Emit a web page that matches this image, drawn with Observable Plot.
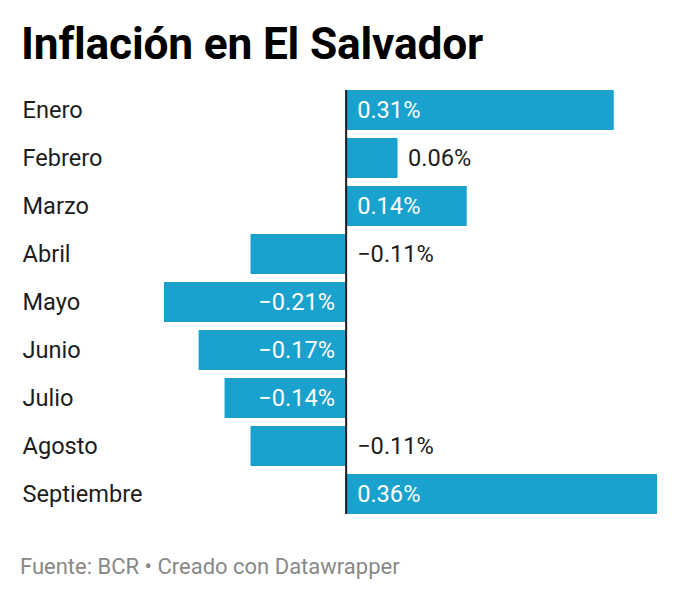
<!DOCTYPE html>
<html>
<head>
<meta charset="utf-8">
<script src="https://cdn.jsdelivr.net/npm/d3@7"></script>
<script src="https://cdn.jsdelivr.net/npm/@observablehq/plot@0.6"></script>
<style>
  body { margin: 0; background: #fff; font-family: Roboto, sans-serif; }
  #wrap { width: 680px; }
  #title { height: 82px; box-sizing: border-box; padding: 19px 0 0 21px; font: 700 44.3px/50px Roboto, sans-serif; color: #000; letter-spacing: -0.2px; }
  #foot { padding: 32px 0 0 20px; font: 400 22px/26px Roboto, sans-serif; color: #888; }
  svg { display: block; }
</style>
</head>
<body>
<div id="wrap">
  <div id="title">Inflación en El Salvador</div>
  <div id="chart"></div>
  <div id="foot">Fuente: BCR • Creado con Datawrapper</div>
</div>
<script>
const months = ["Enero","Febrero","Marzo","Abril","Mayo","Junio","Julio","Agosto","Septiembre"];
const values = [0.31, 0.06, 0.14, -0.11, -0.21, -0.17, -0.14, -0.11, 0.36];

const data = months.map((m, i) => ({ month: m, value: values[i] }));
const fmt = v => (v < 0 ? "\u2212" : "") + Math.abs(v).toFixed(2) + "%";
const isInside = d => Math.abs(d.value) >= 0.14;

const posIn = data.filter(d => d.value >= 0 && isInside(d));
const posOut = data.filter(d => d.value >= 0 && !isInside(d));
const negIn = data.filter(d => d.value < 0 && isInside(d));
const negOut = data.filter(d => d.value < 0 && !isInside(d));

const blue = "#19a2cd";
const ink = "#1d1d1d";
const fs = 23.6;

const chart = Plot.plot({
  width: 680,
  height: 440,
  marginTop: 0,
  marginBottom: 0,
  marginLeft: 164,
  marginRight: 23,
  style: { fontFamily: "Roboto, sans-serif", fontSize: "24px", background: "#fff" },
  x: { domain: [-0.21, 0.36], axis: null },
  y: { domain: months, axis: null, paddingInner: 1/6, paddingOuter: 1/6, round: false },
  marks: [
    Plot.barX(data, { x: "value", y: "month", fill: blue }),
    Plot.ruleX([0], { stroke: ink, strokeWidth: 2, insetTop: 8, insetBottom: 8 }),
    Plot.text(data, { y: "month", text: "month", frameAnchor: "left", dx: -142, textAnchor: "start", fill: ink, fontSize: fs }),
    Plot.text(posIn, { x: 0, y: "month", text: d => fmt(d.value), dx: 11, textAnchor: "start", fill: "#fff", fontSize: fs }),
    Plot.text(posOut, { x: "value", y: "month", text: d => fmt(d.value), dx: 10, textAnchor: "start", fill: ink, fontSize: fs }),
    Plot.text(negIn, { x: 0, y: "month", text: d => fmt(d.value), dx: -11, textAnchor: "end", fill: "#fff", fontSize: fs }),
    Plot.text(negOut, { x: 0, y: "month", text: d => fmt(d.value), dx: 11, textAnchor: "start", fill: ink, fontSize: fs })
  ]
});
document.getElementById("chart").appendChild(chart);
</script>
</body>
</html>
